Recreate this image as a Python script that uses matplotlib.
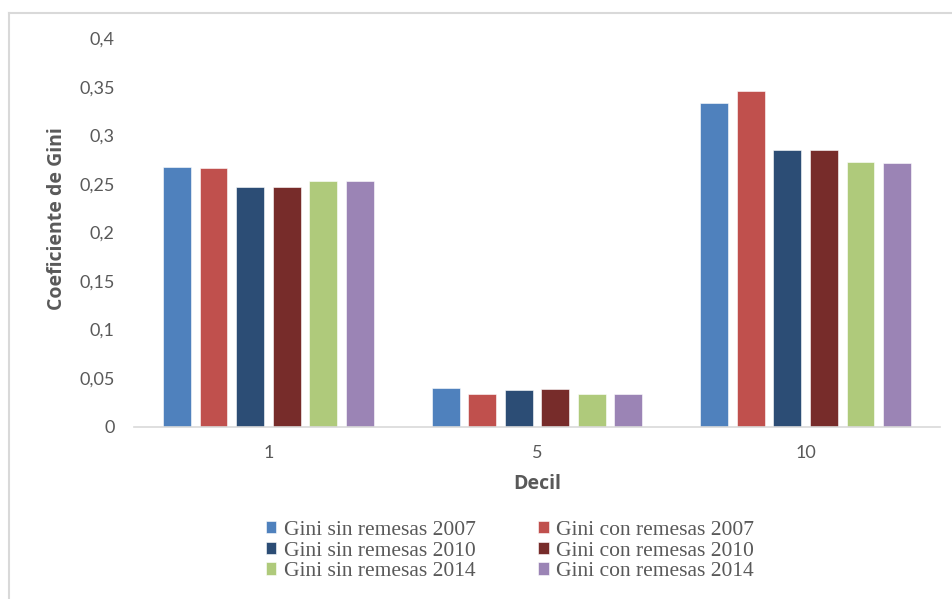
import numpy as np
import matplotlib
matplotlib.use("Agg")
import matplotlib.pyplot as plt
from matplotlib.lines import Line2D

deciles = ["1", "5", "10"]
series = [
    "Gini sin remesas 2007", "Gini con remesas 2007",
    "Gini sin remesas 2010", "Gini con remesas 2010",
    "Gini sin remesas 2014", "Gini con remesas 2014",
]
sin_2007 = [0.268, 0.040, 0.334]
con_2007 = [0.267, 0.033, 0.346]
sin_2010 = [0.247, 0.038, 0.285]
con_2010 = [0.247, 0.039, 0.285]
sin_2014 = [0.253, 0.034, 0.273]
con_2014 = [0.253, 0.033, 0.272]
values = [sin_2007, con_2007, sin_2010, con_2010, sin_2014, con_2014]
colors = ["#4F81BD", "#C0504D", "#2C4D75", "#772C2A", "#AFCA7B", "#9B84B5"]
yticks = [0, 0.05, 0.1, 0.15, 0.2, 0.25, 0.3, 0.35, 0.4]

grey = "#595959"
fig = plt.figure(figsize=(9.53, 5.99), dpi=100)
ax = fig.add_axes([134 / 953, 1 - 426.5 / 599, 806 / 953, (426.5 - 38.5) / 599])

x = np.arange(len(deciles))
pitch = 0.136
width = 0.104
bars = []
for i, (vals, col, name) in enumerate(zip(values, colors, series)):
    bars.append(ax.bar(x + (i - 2.5) * pitch, vals, width, color=col, label=name,
                       edgecolor="white", linewidth=0.4))

ax.set_xlim(-0.5, 2.5)
ax.set_ylim(0, 0.4)
ax.set_yticks(yticks)
ax.set_yticklabels([f"{t:g}".replace(".", ",") for t in yticks])
ax.set_xticks(x)
ax.set_xticklabels(deciles)
ax.tick_params(length=0, labelsize=13, colors=grey, labelfontfamily="Lato")
ax.tick_params(axis="y", pad=14)
ax.tick_params(axis="x", pad=13)
for s in ["top", "right", "left"]:
    ax.spines[s].set_visible(False)
ax.spines["bottom"].set_color("#D9D9D9")
ax.spines["bottom"].set_linewidth(1.2)

# y label placed in figure coordinates, as in the original
fig.text(57 / 953, 1 - 219 / 599, "Coeficiente de Gini", rotation=90,
         ha="center", va="center", fontsize=14, fontweight="bold",
         color=grey, family="Open Sans")
ax.set_xlabel("Decil", fontsize=14, fontweight="bold", color=grey,
              family="Open Sans", labelpad=10)

order = [0, 2, 4, 1, 3, 5]
leg = fig.legend([bars[k] for k in order], [series[k] for k in order],
                 loc="center", bbox_to_anchor=(510 / 953, 1 - 551 / 599), ncol=2,
                 frameon=False, prop={"family": "Liberation Serif", "size": 15.5},
                 handlelength=0.5, handleheight=0.5, handletextpad=0.35,
                 columnspacing=2.9, labelspacing=0.07, borderpad=0)
for t in leg.get_texts():
    t.set_color(grey)

fig.add_artist(Line2D([9 / 953, 9 / 953], [0, 1 - 13 / 599], color="#D9D9D9", lw=1.5))
fig.add_artist(Line2D([9 / 953, 1], [1 - 13 / 599, 1 - 13 / 599], color="#D9D9D9", lw=1.5))

fig.savefig("out.png", dpi=100)
